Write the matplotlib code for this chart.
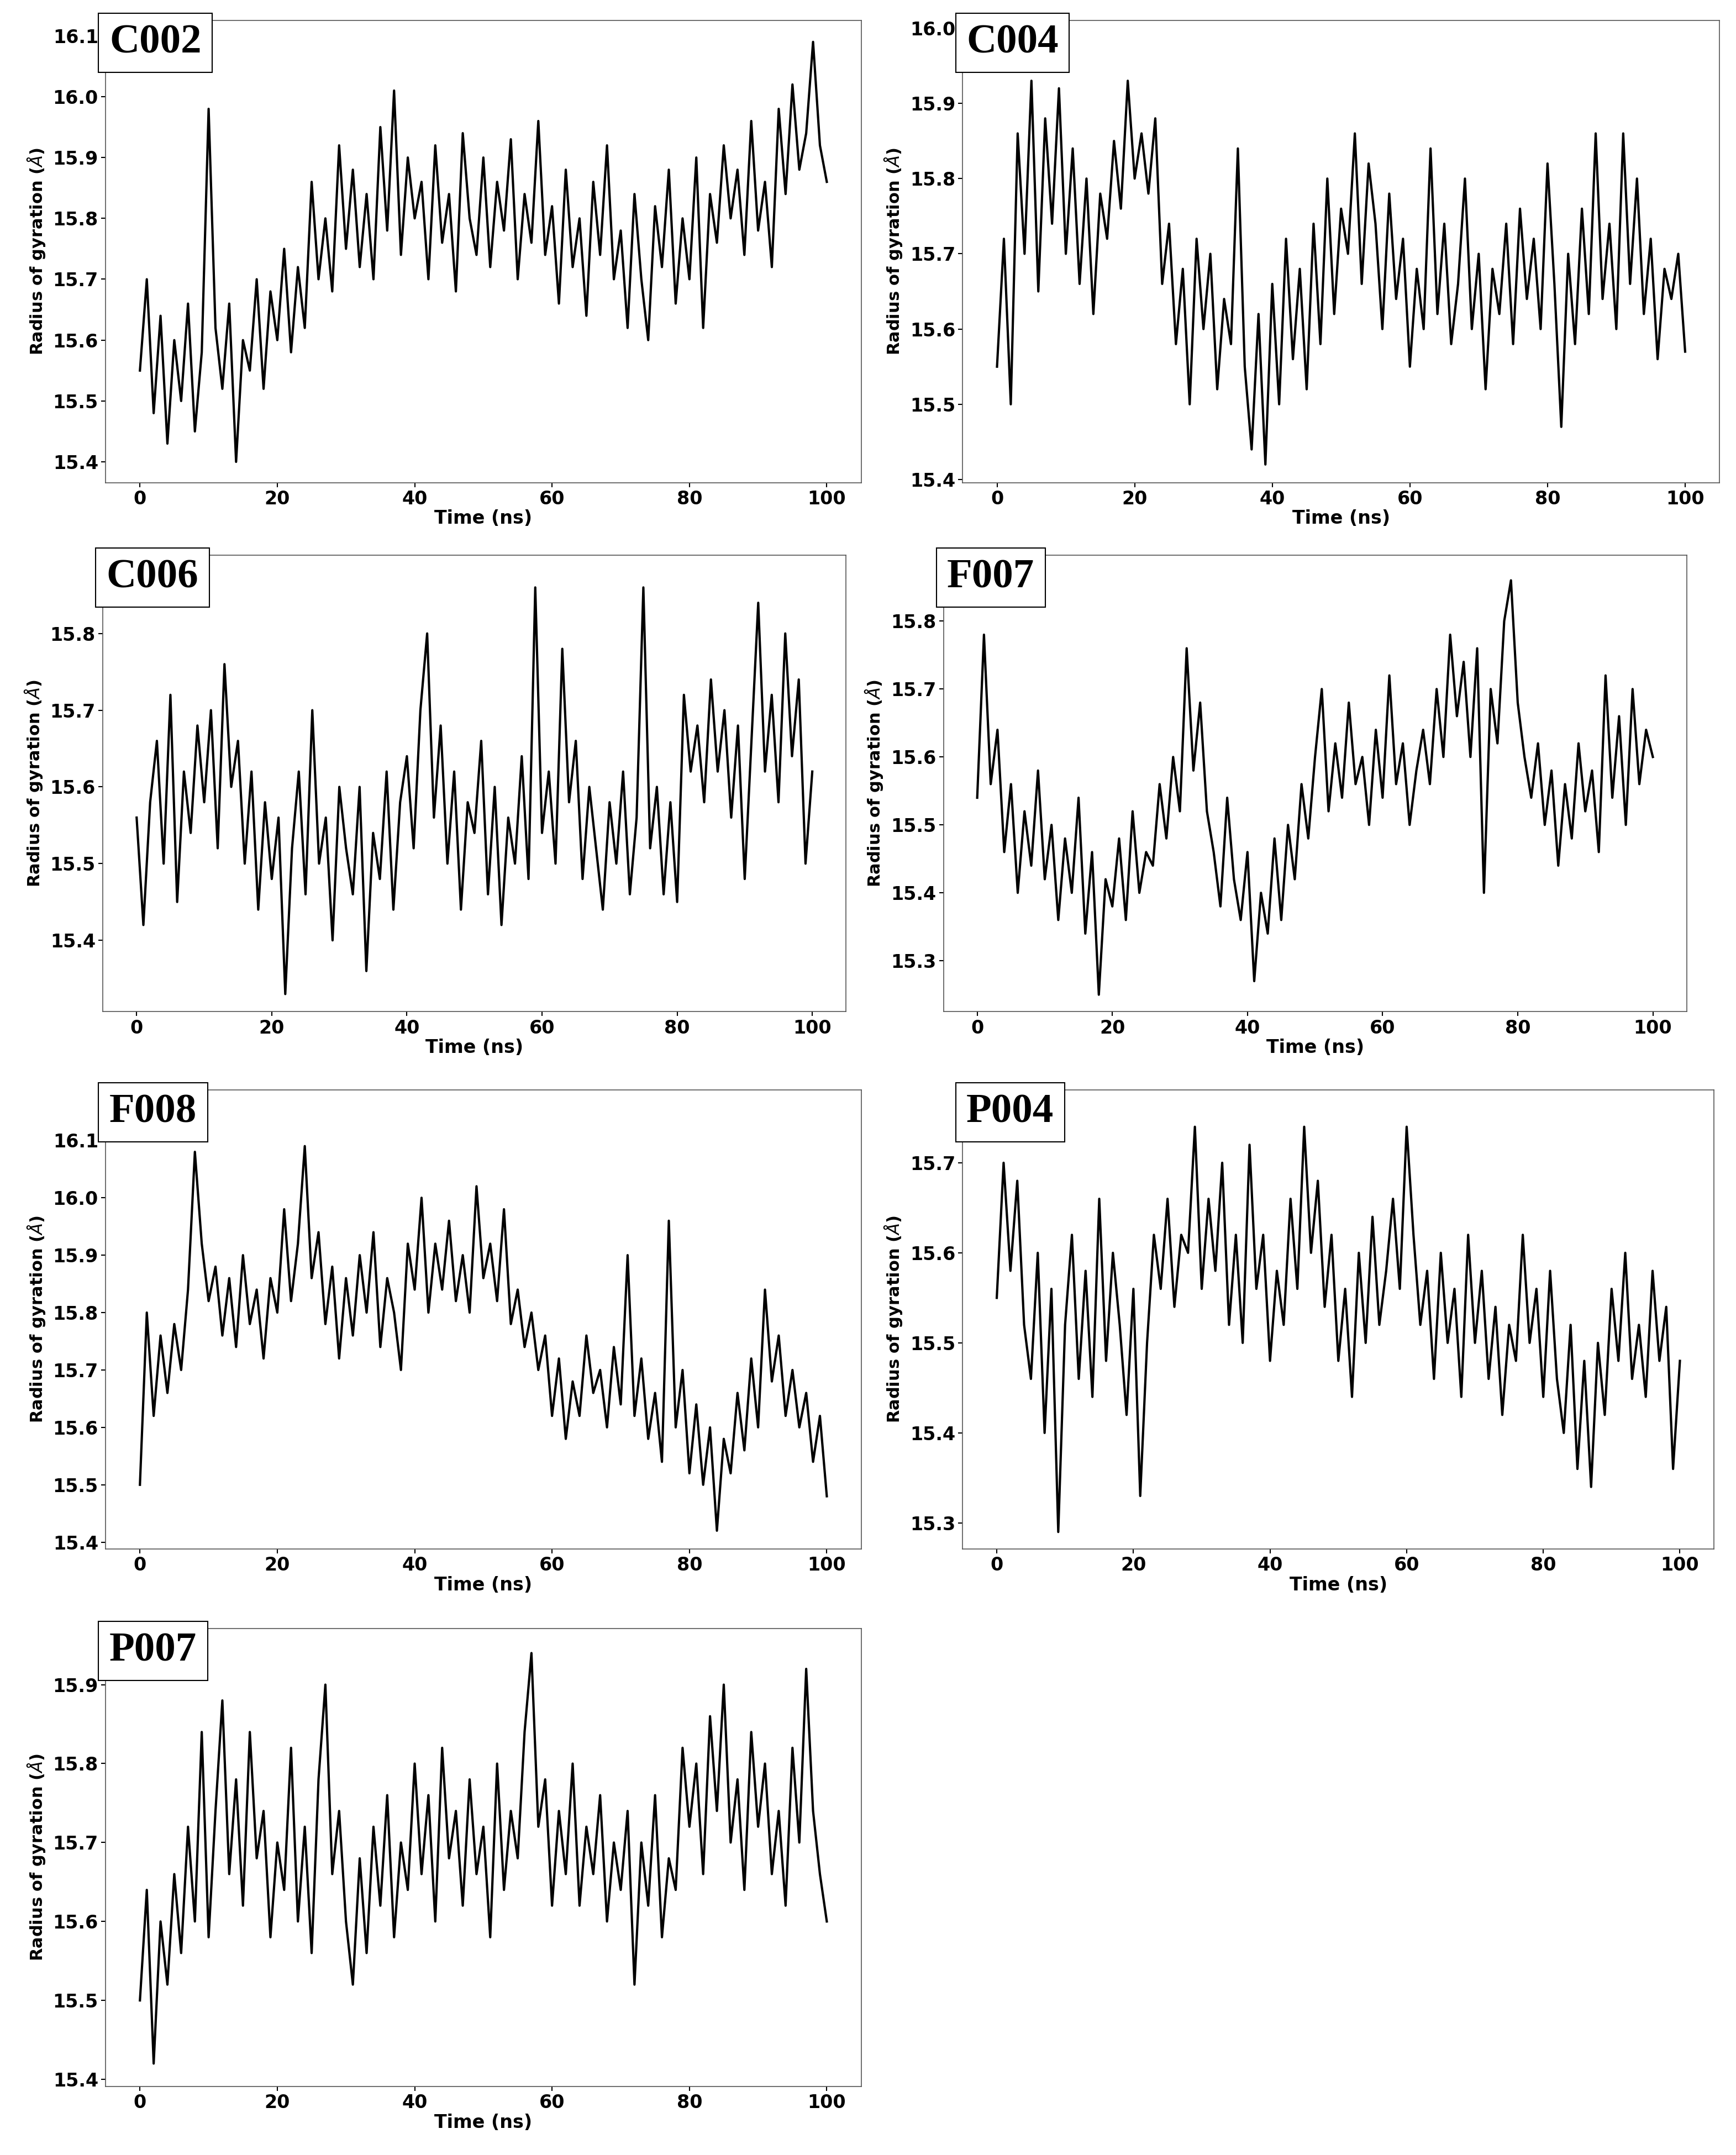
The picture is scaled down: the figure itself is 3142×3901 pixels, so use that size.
import numpy as np
import matplotlib
matplotlib.use("Agg")
import matplotlib.pyplot as plt

# values, one per ns (0..100)
c002 = [15.55, 15.70, 15.48, 15.64, 15.43, 15.60, 15.50, 15.66, 15.45, 15.58, 15.98,
        15.62, 15.52, 15.66, 15.40, 15.60, 15.55, 15.70, 15.52, 15.68, 15.60,
        15.75, 15.58, 15.72, 15.62, 15.86, 15.70, 15.80, 15.68, 15.92, 15.75,
        15.88, 15.72, 15.84, 15.70, 15.95, 15.78, 16.01, 15.74, 15.90, 15.80,
        15.86, 15.70, 15.92, 15.76, 15.84, 15.68, 15.94, 15.80, 15.74, 15.90,
        15.72, 15.86, 15.78, 15.93, 15.70, 15.84, 15.76, 15.96, 15.74, 15.82,
        15.66, 15.88, 15.72, 15.80, 15.64, 15.86, 15.74, 15.92, 15.70, 15.78,
        15.62, 15.84, 15.70, 15.60, 15.82, 15.72, 15.88, 15.66, 15.80, 15.70,
        15.90, 15.62, 15.84, 15.76, 15.92, 15.80, 15.88, 15.74, 15.96, 15.78,
        15.86, 15.72, 15.98, 15.84, 16.02, 15.88, 15.94, 16.09, 15.92, 15.86]
c004 = [15.55, 15.72, 15.50, 15.86, 15.70, 15.93, 15.65, 15.88, 15.74, 15.92, 15.70,
        15.84, 15.66, 15.80, 15.62, 15.78, 15.72, 15.85, 15.76, 15.93, 15.80,
        15.86, 15.78, 15.88, 15.66, 15.74, 15.58, 15.68, 15.50, 15.72, 15.60,
        15.70, 15.52, 15.64, 15.58, 15.84, 15.55, 15.44, 15.62, 15.42, 15.66,
        15.50, 15.72, 15.56, 15.68, 15.52, 15.74, 15.58, 15.80, 15.62, 15.76,
        15.70, 15.86, 15.66, 15.82, 15.74, 15.60, 15.78, 15.64, 15.72, 15.55,
        15.68, 15.60, 15.84, 15.62, 15.74, 15.58, 15.66, 15.80, 15.60, 15.70,
        15.52, 15.68, 15.62, 15.74, 15.58, 15.76, 15.64, 15.72, 15.60, 15.82,
        15.66, 15.47, 15.70, 15.58, 15.76, 15.62, 15.86, 15.64, 15.74, 15.60,
        15.86, 15.66, 15.80, 15.62, 15.72, 15.56, 15.68, 15.64, 15.70, 15.57]
c006 = [15.56, 15.42, 15.58, 15.66, 15.50, 15.72, 15.45, 15.62, 15.54, 15.68, 15.58,
        15.70, 15.52, 15.76, 15.60, 15.66, 15.50, 15.62, 15.44, 15.58, 15.48,
        15.56, 15.33, 15.52, 15.62, 15.46, 15.70, 15.50, 15.56, 15.40, 15.60,
        15.52, 15.46, 15.60, 15.36, 15.54, 15.48, 15.62, 15.44, 15.58, 15.64,
        15.52, 15.70, 15.80, 15.56, 15.68, 15.50, 15.62, 15.44, 15.58, 15.54,
        15.66, 15.46, 15.60, 15.42, 15.56, 15.50, 15.64, 15.48, 15.86, 15.54,
        15.62, 15.50, 15.78, 15.58, 15.66, 15.48, 15.60, 15.52, 15.44, 15.58,
        15.50, 15.62, 15.46, 15.56, 15.86, 15.52, 15.60, 15.46, 15.58, 15.45,
        15.72, 15.62, 15.68, 15.58, 15.74, 15.62, 15.70, 15.56, 15.68, 15.48,
        15.66, 15.84, 15.62, 15.72, 15.58, 15.80, 15.64, 15.74, 15.50, 15.62]
f007 = [15.54, 15.78, 15.56, 15.64, 15.46, 15.56, 15.40, 15.52, 15.44, 15.58, 15.42,
        15.50, 15.36, 15.48, 15.40, 15.54, 15.34, 15.46, 15.25, 15.42, 15.38,
        15.48, 15.36, 15.52, 15.40, 15.46, 15.44, 15.56, 15.48, 15.60, 15.52,
        15.76, 15.58, 15.68, 15.52, 15.46, 15.38, 15.54, 15.42, 15.36, 15.46,
        15.27, 15.40, 15.34, 15.48, 15.36, 15.50, 15.42, 15.56, 15.48, 15.60,
        15.70, 15.52, 15.62, 15.54, 15.68, 15.56, 15.60, 15.50, 15.64, 15.54,
        15.72, 15.56, 15.62, 15.50, 15.58, 15.64, 15.56, 15.70, 15.60, 15.78,
        15.66, 15.74, 15.60, 15.76, 15.40, 15.70, 15.62, 15.80, 15.86, 15.68,
        15.60, 15.54, 15.62, 15.50, 15.58, 15.44, 15.56, 15.48, 15.62, 15.52,
        15.58, 15.46, 15.72, 15.54, 15.66, 15.50, 15.70, 15.56, 15.64, 15.60]
f008 = [15.50, 15.80, 15.62, 15.76, 15.66, 15.78, 15.70, 15.84, 16.08, 15.92, 15.82,
        15.88, 15.76, 15.86, 15.74, 15.90, 15.78, 15.84, 15.72, 15.86, 15.80,
        15.98, 15.82, 15.92, 16.09, 15.86, 15.94, 15.78, 15.88, 15.72, 15.86,
        15.76, 15.90, 15.80, 15.94, 15.74, 15.86, 15.80, 15.70, 15.92, 15.84,
        16.00, 15.80, 15.92, 15.84, 15.96, 15.82, 15.90, 15.80, 16.02, 15.86,
        15.92, 15.82, 15.98, 15.78, 15.84, 15.74, 15.80, 15.70, 15.76, 15.62,
        15.72, 15.58, 15.68, 15.62, 15.76, 15.66, 15.70, 15.60, 15.74, 15.64,
        15.90, 15.62, 15.72, 15.58, 15.66, 15.54, 15.96, 15.60, 15.70, 15.52,
        15.64, 15.50, 15.60, 15.42, 15.58, 15.52, 15.66, 15.56, 15.72, 15.60,
        15.84, 15.68, 15.76, 15.62, 15.70, 15.60, 15.66, 15.54, 15.62, 15.48]
p004 = [15.55, 15.70, 15.58, 15.68, 15.52, 15.46, 15.60, 15.40, 15.56, 15.29, 15.52,
        15.62, 15.46, 15.58, 15.44, 15.66, 15.48, 15.60, 15.52, 15.42, 15.56,
        15.33, 15.50, 15.62, 15.56, 15.66, 15.54, 15.62, 15.60, 15.74, 15.56,
        15.66, 15.58, 15.70, 15.52, 15.62, 15.50, 15.72, 15.56, 15.62, 15.48,
        15.58, 15.52, 15.66, 15.56, 15.74, 15.60, 15.68, 15.54, 15.62, 15.48,
        15.56, 15.44, 15.60, 15.50, 15.64, 15.52, 15.58, 15.66, 15.56, 15.74,
        15.62, 15.52, 15.58, 15.46, 15.60, 15.50, 15.56, 15.44, 15.62, 15.50,
        15.58, 15.46, 15.54, 15.42, 15.52, 15.48, 15.62, 15.50, 15.56, 15.44,
        15.58, 15.46, 15.40, 15.52, 15.36, 15.48, 15.34, 15.50, 15.42, 15.56,
        15.48, 15.60, 15.46, 15.52, 15.44, 15.58, 15.48, 15.54, 15.36, 15.48]
p007 = [15.50, 15.64, 15.42, 15.60, 15.52, 15.66, 15.56, 15.72, 15.60, 15.84, 15.58,
        15.74, 15.88, 15.66, 15.78, 15.62, 15.84, 15.68, 15.74, 15.58, 15.70,
        15.64, 15.82, 15.60, 15.72, 15.56, 15.78, 15.90, 15.66, 15.74, 15.60,
        15.52, 15.68, 15.56, 15.72, 15.62, 15.76, 15.58, 15.70, 15.64, 15.80,
        15.66, 15.76, 15.60, 15.82, 15.68, 15.74, 15.62, 15.78, 15.66, 15.72,
        15.58, 15.80, 15.64, 15.74, 15.68, 15.84, 15.94, 15.72, 15.78, 15.62,
        15.74, 15.66, 15.80, 15.62, 15.72, 15.66, 15.76, 15.60, 15.70, 15.64,
        15.74, 15.52, 15.70, 15.62, 15.76, 15.58, 15.68, 15.64, 15.82, 15.72,
        15.80, 15.66, 15.86, 15.74, 15.90, 15.70, 15.78, 15.64, 15.84, 15.72,
        15.80, 15.66, 15.74, 15.62, 15.82, 15.70, 15.92, 15.74, 15.66, 15.60]

names = ["C002", "C004", "C006", "F007", "F008", "P004", "P007"]
series = [c002, c004, c006, f007, f008, p004, p007]
ylims = [(15.366, 16.125), (15.396, 16.01), (15.307, 15.902), (15.225, 15.897),
         (15.388, 16.188), (15.271, 15.781), (15.391, 15.971)]
yticks = [np.arange(15.4, 16.11, 0.1), np.arange(15.4, 16.01, 0.1),
          np.arange(15.4, 15.81, 0.1), np.arange(15.3, 15.81, 0.1),
          np.arange(15.4, 16.11, 0.1), np.arange(15.3, 15.71, 0.1),
          np.arange(15.4, 15.91, 0.1)]
# axes boxes in reference display px (1266x1572 view): left, top, right, bottom
boxes = [(77, 15, 628, 352), (702, 15, 1254, 352),
         (75, 405, 617, 738), (688, 405, 1230, 738),
         (77, 795, 628, 1130), (702, 795, 1250, 1130),
         (77, 1188, 628, 1522)]
W, H = 1266.0, 1572.0

fig = plt.figure(figsize=(31.42, 39.01), dpi=100)
for name, vals, yl, yt, (l, t, r, b) in zip(names, series, ylims, yticks, boxes):
    ax = fig.add_axes([l / W, 1 - b / H, (r - l) / W, (b - t) / H])
    time = np.linspace(0, 100, len(vals))
    ax.plot(time, vals, color="black", lw=3)
    ax.set_xlim(-5, 105)
    ax.set_ylim(*yl)
    ax.set_xticks([0, 20, 40, 60, 80, 100])
    ax.set_yticks(yt)
    ax.set_yticklabels([f"{v:.1f}" for v in yt])
    ax.tick_params(labelsize=24, width=1.5, length=6)
    for lab in ax.get_xticklabels() + ax.get_yticklabels():
        lab.set_fontweight("bold")
    for s in ax.spines.values():
        s.set_linewidth(1.2)
        s.set_color("#555555")
    ax.set_xlabel("Time (ns)", fontsize=24, fontweight="bold", labelpad=2)
    ax.set_ylabel("Radius of gyration ($\\AA$)", fontsize=22, fontweight="bold", labelpad=8)
    ax.text(0.005, 0.992, name, transform=ax.transAxes, ha="left", va="top",
            fontsize=54, fontweight="bold", family="Liberation Serif",
            bbox=dict(facecolor="white", edgecolor="black", lw=1.5, pad=14))

fig.savefig("out.png", dpi=100)
